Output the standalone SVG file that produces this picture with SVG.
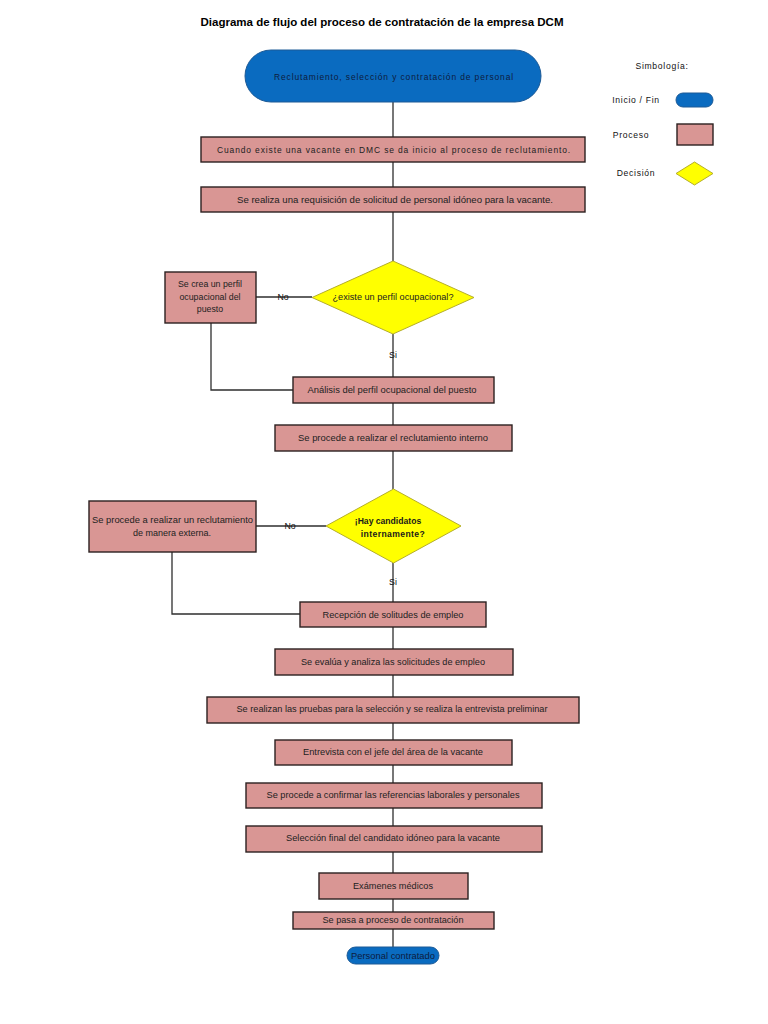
<svg xmlns="http://www.w3.org/2000/svg" width="768" height="1024" viewBox="0 0 768 1024">
<style>
text{font-family:"Liberation Sans",Arial,sans-serif;fill:#222;dominant-baseline:central;text-anchor:middle}
.title{font-size:11.6px;font-weight:bold;fill:#000;dominant-baseline:alphabetic}
.t{font-size:8.8px}
.sp{font-size:8.6px;letter-spacing:0.9px}
.db{font-size:8.6px;font-weight:bold;fill:#1a1a1a}
.lg{font-size:8.6px;letter-spacing:0.7px;fill:#111}
.term{fill:#0A6BC0;stroke:#1D5A96;stroke-width:1}
.proc{fill:#D99694;stroke:#2B2020;stroke-width:1.4}
.dec{fill:#FFFF00;stroke:#B5AE2A;stroke-width:1}
.con{fill:none;stroke:#2E2E2E;stroke-width:1.3}
.lbl{font-size:8.8px;fill:#111}
</style>
<text class="title" x="382" y="26" textLength="363" lengthAdjust="spacingAndGlyphs">Diagrama de flujo del proceso de contratación de la empresa DCM</text>

<g id="connectors">
<path class="con" d="M393 102V137"/>
<path class="con" d="M393 162V187"/>
<path class="con" d="M393 212V261"/>
<path class="con" d="M393 334V377"/>
<path class="con" d="M256 297H312"/>
<path class="con" d="M211 323V390H293"/>
<path class="con" d="M393 403V425"/>
<path class="con" d="M393 451V489"/>
<path class="con" d="M393 563V602"/>
<path class="con" d="M256 526H326"/>
<path class="con" d="M172 552V614H300"/>
<path class="con" d="M393 627V649"/>
<path class="con" d="M393 675V697"/>
<path class="con" d="M393 723V740"/>
<path class="con" d="M393 765V783"/>
<path class="con" d="M393 808V826"/>
<path class="con" d="M393 852V873"/>
<path class="con" d="M393 899V912"/>
<path class="con" d="M393 929V947"/>
<text class="lbl" x="283" y="297">No</text>
<text class="lbl" x="393" y="355">Si</text>
<text class="lbl" x="290" y="526">No</text>
<text class="lbl" x="393" y="582">Si</text>
</g>

<g id="start">
<rect class="term" x="245" y="50" width="296" height="52" rx="26"/>
<text class="sp" x="394" y="77" textLength="240" lengthAdjust="spacingAndGlyphs" style="fill:#0D1B3E">Reclutamiento, selección y contratación de personal</text>
</g>

<g id="n1">
<rect class="proc" x="201" y="137" width="384" height="25"/>
<text class="sp" x="394" y="150" textLength="354" lengthAdjust="spacingAndGlyphs">Cuando existe una vacante en DMC se da inicio al proceso de reclutamiento.</text>
</g>

<g id="n2">
<rect class="proc" x="201" y="187" width="384" height="25"/>
<text class="t" x="395" y="200" textLength="316" lengthAdjust="spacingAndGlyphs">Se realiza una requisición de  solicitud de personal idóneo para la vacante.</text>
</g>

<g id="d1">
<polygon class="dec" points="393,261 474,297.5 393,334 312,297.5"/>
<text class="t" x="393" y="297" textLength="121" lengthAdjust="spacingAndGlyphs">¿existe un perfil ocupacional?</text>
</g>

<g id="n3">
<rect class="proc" x="165" y="272" width="91" height="51"/>
<text class="t" x="210" y="284">Se crea un perfil</text>
<text class="t" x="210" y="297">ocupacional del</text>
<text class="t" x="210" y="309">puesto</text>
</g>

<g id="n4">
<rect class="proc" x="293" y="377" width="201" height="26"/>
<text class="t" x="392" y="390" textLength="169" lengthAdjust="spacingAndGlyphs">Análisis del perfil ocupacional del puesto</text>
</g>

<g id="n5">
<rect class="proc" x="275" y="425" width="237" height="26"/>
<text class="t" x="393" y="438" textLength="190" lengthAdjust="spacingAndGlyphs">Se procede a realizar el reclutamiento interno</text>
</g>

<g id="d2">
<polygon class="dec" points="393.5,489 461,526 393.5,563 326,526"/>
<text class="db" x="388" y="521">¡Hay candidatos</text>
<text class="db" x="393" y="534" style="letter-spacing:0.4px">internamente?</text>
</g>

<g id="n6">
<rect class="proc" x="89" y="501" width="167" height="51"/>
<text class="t" x="172.5" y="520" textLength="161" lengthAdjust="spacingAndGlyphs">Se procede a realizar un reclutamiento</text>
<text class="t" x="172" y="533" textLength="78" lengthAdjust="spacingAndGlyphs">de manera externa.</text>
</g>

<g id="n7">
<rect class="proc" x="300" y="602" width="186" height="25"/>
<text class="t" x="393" y="615" textLength="141" lengthAdjust="spacingAndGlyphs">Recepción de solitudes de empleo</text>
</g>

<g id="n8">
<rect class="proc" x="275" y="649" width="238" height="26"/>
<text class="t" x="393" y="662" textLength="184" lengthAdjust="spacingAndGlyphs">Se evalúa y analiza las solicitudes de empleo</text>
</g>

<g id="n9">
<rect class="proc" x="207" y="697" width="372" height="26"/>
<text class="t" x="392" y="709" textLength="311" lengthAdjust="spacingAndGlyphs">Se realizan las pruebas para la selección y se realiza la entrevista preliminar</text>
</g>

<g id="n10">
<rect class="proc" x="275" y="740" width="237" height="25"/>
<text class="t" x="393" y="752" textLength="180" lengthAdjust="spacingAndGlyphs">Entrevista con el jefe del área de la vacante</text>
</g>

<g id="n11">
<rect class="proc" x="246" y="783" width="296" height="25"/>
<text class="t" x="393" y="795" textLength="253" lengthAdjust="spacingAndGlyphs">Se procede a confirmar las referencias laborales y personales</text>
</g>

<g id="n12">
<rect class="proc" x="246" y="826" width="296" height="26"/>
<text class="t" x="393" y="838" textLength="214" lengthAdjust="spacingAndGlyphs">Selección final del candidato idóneo para la vacante</text>
</g>

<g id="n13">
<rect class="proc" x="319" y="873" width="149" height="26"/>
<text class="t" x="393" y="886" textLength="80" lengthAdjust="spacingAndGlyphs">Exámenes médicos</text>
</g>

<g id="n14">
<rect class="proc" x="293" y="912" width="201" height="17"/>
<text class="t" x="393" y="920" textLength="141" lengthAdjust="spacingAndGlyphs">Se pasa a proceso de contratación</text>
</g>

<g id="end">
<rect class="term" x="347" y="947" width="92" height="17" rx="8.5"/>
<text class="t" x="393" y="955.5" textLength="84" lengthAdjust="spacingAndGlyphs" style="fill:#0D1B3E">Personal contratado</text>
</g>

<g id="legend">
<text class="lg" x="662" y="66">Simbología:</text>
<text class="lg" x="636" y="100">Inicio / Fin</text>
<rect class="term" x="676" y="93" width="37" height="14" rx="7"/>
<text class="lg" x="631" y="135">Proceso</text>
<rect class="proc" x="677" y="124" width="36" height="21"/>
<text class="lg" x="636" y="173">Decisión</text>
<polygon class="dec" points="694.5,162 713,173.5 694.5,185 676,173.5"/>
</g>
</svg>
